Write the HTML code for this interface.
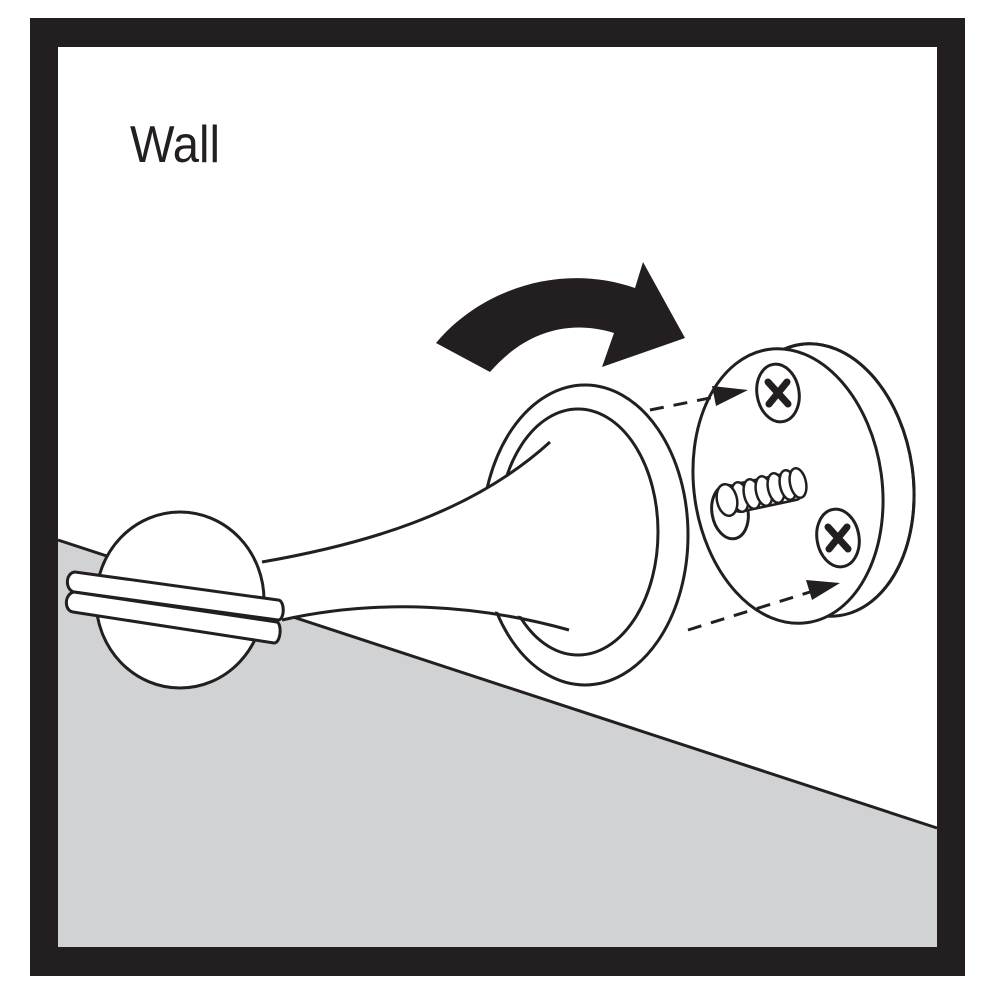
<!DOCTYPE html>
<html><head><style>html,body{margin:0;padding:0;background:#fff}svg{display:block}</style></head>
<body>
<svg width="1000" height="1000" viewBox="0 0 1000 1000" xmlns="http://www.w3.org/2000/svg">
<rect x="0" y="0" width="1000" height="1000" fill="#fff"/>
<rect x="30" y="18" width="935" height="958" fill="#231f20"/>
<rect x="58" y="47" width="879" height="900" fill="#fff"/>
<polygon points="58,540 937,828 937,947 58,947" fill="#d1d2d4"/>
<line x1="58" y1="540" x2="937" y2="828" stroke="#231f20" stroke-width="3"/>
<text x="130" y="162" font-family="Liberation Sans, sans-serif" font-size="52" fill="#231f20" textLength="90" lengthAdjust="spacingAndGlyphs">Wall</text>
<!-- curved arrow -->
<path d="M436,343 C480,290 560,262 635,288 L643,262 L685,338 L602,367 L614,333 C565,318 522,335 490,372 Z" fill="#231f20"/>
<g fill="#fff" stroke="#231f20" stroke-width="3">
<!-- base ring -->
<ellipse cx="585" cy="535" rx="103" ry="150"/>
<ellipse cx="578" cy="532" rx="80" ry="123"/>
<!-- stem -->
<path d="M262,562 C360,545 470,515 550,442 L560,470 L580,620 L569,630 C500,605 400,595 282,620 Z" stroke="none"/>
<path d="M262,562 C360,545 470,515 550,442" fill="none"/>
<path d="M282,620 C380,598 480,605 569,630" fill="none"/>
<!-- ball -->
<ellipse cx="180" cy="600" rx="84" ry="88"/>
<path d="M73,572 L280,600 L276,643 L71,612 Z" stroke="none"/>
<path d="M75,572 C65,573 65,590 74,592 L278,620 C285,620 285,600 278,600 Z"/>
<path d="M74,592 C64,594 64,611 73,612 L274,643 C281,643 282,624 277,622 Z"/>
<!-- disc -->
<ellipse cx="820" cy="480" rx="93" ry="137" transform="rotate(-8 820 480)"/>
<polygon points="788,349 822,343 852,618 800,625" stroke="none"/>
<ellipse cx="820" cy="480" rx="93" ry="137" transform="rotate(-8 820 480)" fill="none"/>
<ellipse cx="788" cy="486" rx="94" ry="138" transform="rotate(-8 788 486)"/>
<!-- screws -->
<ellipse cx="778" cy="393" rx="21" ry="29" transform="rotate(-10 778 393)"/>
<ellipse cx="838" cy="538" rx="21" ry="29" transform="rotate(-10 838 538)"/>
<ellipse cx="730" cy="512" rx="18" ry="27" transform="rotate(-10 730 512)"/>
</g>
<g stroke="#231f20" stroke-width="7" stroke-linecap="round">
<line x1="768" y1="382" x2="788" y2="404"/><line x1="787" y1="382" x2="769" y2="404"/>
<line x1="828" y1="527" x2="848" y2="549"/><line x1="847" y1="527" x2="829" y2="549"/>
</g>
<!-- threaded stud -->
<g fill="#fff" stroke="#231f20" stroke-width="2.5">
<rect x="730" y="478" width="72" height="28" rx="8" transform="rotate(-12 766 492)"/>
<ellipse cx="740" cy="497" rx="8" ry="15" transform="rotate(-12 740 497)"/>
<ellipse cx="752" cy="494" rx="8" ry="15" transform="rotate(-12 752 494)"/>
<ellipse cx="764" cy="491" rx="8" ry="15" transform="rotate(-12 764 491)"/>
<ellipse cx="776" cy="488" rx="8" ry="15" transform="rotate(-12 776 488)"/>
<ellipse cx="788" cy="485" rx="8" ry="15" transform="rotate(-12 788 485)"/>
<ellipse cx="798" cy="483" rx="8" ry="15" transform="rotate(-12 798 483)"/>
<ellipse cx="727" cy="500" rx="10" ry="16" transform="rotate(-12 727 500)"/>
</g>
<!-- dashed arrows -->
<g stroke="#231f20" stroke-width="3" stroke-dasharray="14,10" fill="none">
<line x1="650" y1="410" x2="720" y2="396"/>
<line x1="688" y1="630" x2="810" y2="592"/>
</g>
<polygon points="748,390 712,386 716,406" fill="#231f20"/>
<polygon points="840,583 806,580 812,600" fill="#231f20"/>
</svg>
</body></html>
